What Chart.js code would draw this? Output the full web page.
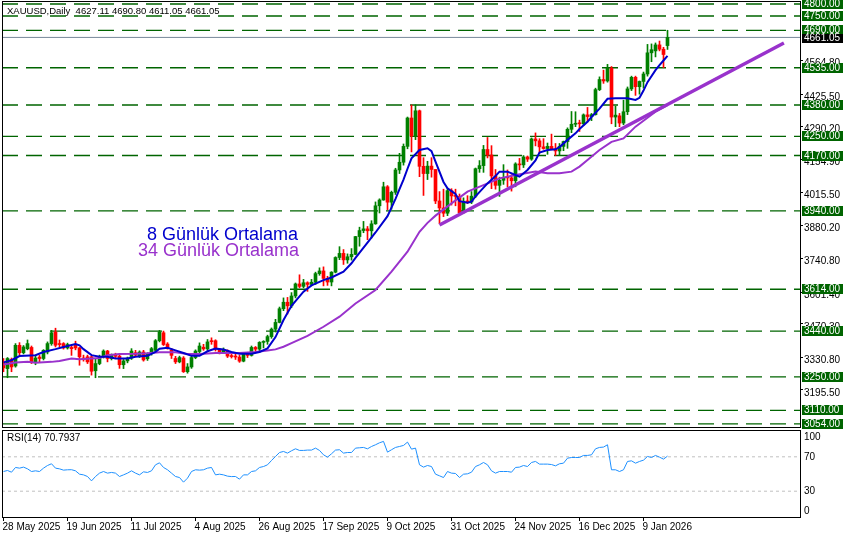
<!DOCTYPE html>
<html>
<head>
<meta charset="utf-8">
<script src="https://cdn.jsdelivr.net/npm/chart.js@4.4.1/dist/chart.umd.min.js"></script>
<style>
html, body { margin: 0; padding: 0; background: #fff; }
#wrap { position: relative; width: 846px; height: 538px; overflow: hidden; }
#main { position: absolute; left: 0; top: 0; }
#rsi { position: absolute; left: 0; top: 430px; }
</style>
</head>
<body>
<div id="wrap">
  <canvas id="main" width="846" height="430"></canvas>
  <canvas id="rsi" width="846" height="108"></canvas>
</div>
<script>
// daily candles, 28 May 2025 .. 19 Jan 2026 (bar index 0..166)
const opens = [
3308,3284,3322,3295,3381,3350,3367,3372,3312,3332, 3326,3353,3388,3436,3386,3388,3370,3372,3385,3370,
3328,3333,3333,3275,3305,3333,3357,3326,3340,3336, 3300,3316,3328,3350,3335,3353,3325,3346,3360,3400,
3433,3386,3360,3326,3312,3328,3271,3291,3330,3355, 3373,3366,3400,3400,3360,3353,3356,3336,3336,3332,
3315,3347,3339,3372,3365,3393,3397,3417,3448,3476, 3533,3560,3545,3586,3636,3626,3641,3634,3643,3679,
3690,3659,3644,3685,3746,3763,3736,3749,3759,3833, 3858,3865,3857,3886,3961,3985,4040,3976,4017,4110,
4142,4208,4326,4251,4356,4125,4095,4126,4112,3981, 3952,3930,4024,4002,4000,3932,3980,3977,4001,4115,
4128,4195,4172,4085,4046,4067,4078,4077,4065,4135, 4131,4164,4155,4239,4231,4206,4199,4208,4197,4189,
4208,4228,4279,4300,4304,4302,4339,4332,4340,4444, 4486,4480,4533,4330,4335,4305,4352,4447,4495,4456,
4478,4509,4597,4605,4630,4612,4627.11];
const highs = [
3326,3330,3328,3388,3392,3380,3403,3378,3340,3339, 3363,3395,3443,3452,3403,3392,3390,3381,3398,3372,
3340,3340,3336,3326,3340,3362,3360,3345,3348,3340, 3322,3332,3367,3360,3358,3360,3350,3372,3405,3443,
3440,3392,3368,3335,3336,3334,3305,3343,3362,3391, 3385,3405,3412,3404,3368,3370,3362,3345,3350,3340,
3350,3352,3378,3376,3396,3400,3423,3453,3489,3540, 3578,3580,3600,3640,3674,3655,3645,3655,3685,3703,
3707,3668,3687,3749,3791,3779,3761,3783,3834,3872, 3896,3875,3899,3977,3990,4059,4045,4022,4117,4179,
4218,4330,4380,4381,4359,4161,4146,4161,4112,4020, 4030,4034,4032,4030,4010,3994,4003,4020,4118,4149,
4212,4245,4211,4112,4080,4132,4110,4090,4140,4158, 4170,4168,4243,4264,4240,4240,4222,4259,4220,4220,
4230,4285,4353,4352,4317,4343,4370,4345,4450,4497, 4525,4549,4540,4375,4345,4400,4455,4500,4500,4480,
4517,4632,4634,4638,4646,4620,4690.80];
const lows = [
3271,3246,3271,3290,3340,3345,3362,3305,3300,3312, 3320,3345,3381,3374,3375,3365,3365,3339,3362,3298,
3315,3305,3257,3246,3300,3328,3312,3320,3330,3285, 3284,3308,3322,3335,3330,3315,3318,3340,3355,3395,
3380,3365,3326,3305,3308,3268,3265,3285,3325,3350, 3360,3360,3385,3357,3345,3348,3330,3328,3322,3310,
3312,3330,3336,3355,3352,3370,3385,3410,3436,3474, 3525,3511,3537,3578,3620,3620,3605,3628,3634,3672,
3628,3630,3628,3682,3737,3717,3722,3735,3757,3793, 3849,3820,3827,3884,3931,3984,3945,3947,4008,4095,
4130,4198,4185,4236,4082,4004,4070,4080,3970,3886, 3916,3920,3964,3961,3928,3930,3970,3970,3995,4100,
4100,4160,4032,4030,4000,4050,4040,4022,4040,4110, 4120,4145,4150,4210,4180,4196,4175,4195,4170,4170,
4190,4200,4265,4290,4270,4295,4310,4315,4338,4440, 4470,4475,4302,4290,4290,4298,4340,4440,4420,4425,
4450,4500,4560,4580,4605,4535,4611.05];
const closes = [
3287,3326,3291,3381,3350,3374,3388,3312,3328,3326, 3360,3388,3433,3381,3384,3370,3384,3367,3370,3333,
3323,3312,3273,3305,3333,3357,3326,3340,3335,3300, 3316,3328,3357,3340,3353,3320,3346,3367,3400,3436,
3384,3370,3339,3312,3330,3271,3291,3330,3357,3378, 3366,3395,3396,3367,3353,3360,3336,3334,3332,3315,
3347,3339,3372,3365,3393,3397,3417,3448,3476,3533, 3560,3545,3586,3636,3626,3641,3634,3643,3679,3690,
3659,3644,3685,3746,3763,3736,3749,3759,3833,3858, 3865,3857,3886,3961,3985,4040,3976,4017,4110,4142,
4208,4326,4251,4356,4125,4095,4126,4112,3981,3952, 3930,4024,4002,4000,3932,3980,3977,4001,4115,4128,
4195,4172,4085,4046,4067,4078,4077,4065,4135,4131, 4164,4155,4239,4231,4206,4199,4208,4197,4189,4208,
4228,4279,4300,4304,4302,4339,4332,4340,4444,4486, 4480,4533,4330,4338,4305,4352,4447,4495,4456,4478,
4509,4597,4610,4630,4612,4590,4661.05];

// moving averages at selected bars
const ma8Idx = [0,2,4,8,10,13,15,18,19,20,22,24,26,28,31,33,36,38,39,41,43,45,47,49,51,53,55,57,59,62,64,66,68,70,72,75,77,80,82,85,87,88,91,93,96,98,99,100,101,102,104,106,107,108,110,111,113,114,116,117,118,121,123,124,126,128,129,131,133,134,136,138,139,141,143,144,146,147,149,151,153,156,158,159,160,161,163,164,165,166];
const ma8Val = [3310,3319,3336,3340,3353,3365,3374,3386,3381,3365,3340,3333,3333,3326,3326,3333,3337,3353,3367,3371,3360,3349,3337,3337,3356,3367,3363,3353,3346,3346,3353,3368,3415,3486,3545,3604,3630,3652,3663,3687,3722,3744,3808,3850,3918,3990,4030,4070,4115,4158,4193,4200,4188,4145,4060,4034,4010,3980,3974,3978,4000,4054,4085,4103,4103,4089,4082,4110,4150,4182,4193,4196,4205,4235,4262,4280,4310,4330,4365,4406,4408,4408,4401,4410,4440,4475,4525,4546,4565,4584];
const ma34Idx = [0,3,6,8,12,14,17,19,22,24,26,29,33,36,39,43,46,49,53,56,59,63,66,68,70,72,76,80,84,88,93,97,101,104,106,108,112,116,120,124,128,133,136,139,142,144,146,149,152,155,158,163,166];
const ma34Val = [3301,3309,3312,3308,3312,3316,3326,3323,3326,3328,3340,3345,3346,3348,3352,3352,3345,3345,3349,3349,3349,3353,3359,3364,3375,3390,3420,3458,3500,3555,3611,3687,3770,3853,3890,3920,3971,4020,4047,4075,4089,4103,4096,4096,4103,4124,4151,4193,4227,4241,4290,4352,4380];

// trend line from the 28 Oct low
const trendIdx = [109, 195.1];
const trendVal = [3881, 4638];

// RSI(14)
const rsi = [
52.9,54.1,52.1,57.6,56.8,58.0,56.0,52.9,53.7,52.9, 56.8,59.9,61.9,56.8,56.0,54.5,54.9,55.0,53.7,49.8,
49.0,47.1,42.0,47.1,51.0,52.9,51.0,51.8,51.0,47.1, 49.0,51.0,53.7,51.0,49.0,52.5,51.8,53.7,60.7,63.0,
57.6,54.9,51.0,47.1,45.9,40.5,45.2,52.9,54.9,54.5, 54.9,56.8,57.6,49.0,49.8,49.0,47.5,47.0,47.1,44.0,
49.0,49.0,52.9,53.7,57.6,58.7,60.7,65.7,70.4,75.0, 76.2,74.3,77.0,79.3,77.4,77.4,77.8,77.8,80.1,77.4,
72.3,69.6,73.5,77.8,78.2,74.3,75.0,75.0,80.1,80.5, 80.9,79.3,82.0,84.0,86.3,87.9,75.4,78.2,80.9,82.0,
83.2,87.1,78.9,80.1,60.7,58.0,59.9,58.7,49.8,47.9, 45.9,52.9,51.0,50.6,45.9,49.8,50.2,52.1,58.7,60.7,
63.4,60.7,53.7,51.0,52.9,52.9,52.9,52.1,57.6,58.0, 59.9,58.7,63.4,64.6,61.5,61.5,61.5,61.0,59.5,61.9,
62.6,68.4,69.2,69.2,69.2,71.6,71.6,72.3,79.3,80.9, 81.3,84.0,54.9,54.9,52.9,54.9,64.6,65.3,62.6,64.6,
66.1,70.4,69.2,71.6,69.6,67.3,70.7937];
const rsiLevels = [70, 30];
const rsiTicks = [100, 70, 30, 0];

// horizontal levels and axis labels
const levels = [4800, 4750, 4690, 4535, 4380, 4250, 4170, 3940, 3614, 3440, 3250, 3110, 3054];
const priceTicks = [4564.80, 4425.50, 4290.20, 4154.90, 4015.50, 3880.20, 3740.80, 3601.40, 3470.30, 3330.80, 3195.50];
const dateIdx = [0, 16, 32, 48, 64, 80, 96, 112, 128, 144, 160];
const dateLabels = ['28 May 2025','19 Jun 2025','11 Jul 2025','4 Aug 2025','26 Aug 2025','17 Sep 2025','9 Oct 2025','31 Oct 2025','24 Nov 2025','16 Dec 2025','9 Jan 2026'];
const legendLabels = ['8 Günlük Ortalama', '34 Günlük Ortalama'];

const X_MIN = -0.375, X_MAX = 199.125;
const GREEN = '#008000', RED = '#ff0000', LEVEL = '#006400';
const BLUE = '#0000cd', PURPLE = '#9932cc';

Chart.defaults.font.family = '"Liberation Sans", Arial, sans-serif';
Chart.defaults.font.size = 10;
Chart.defaults.color = '#000';

const last = closes.length - 1;
const header = 'XAUUSD,Daily  ' + [opens[last], highs[last], lows[last], closes[last]].map(v => v.toFixed(2)).join(' ');

const bars = opens.map((o, i) => i);
const candleColors = bars.map(i => closes[i] >= opens[i] ? GREEN : RED);
const hline = (v, color, dash, width) => ({
  type: 'line', data: [{x: X_MIN, y: v}, {x: X_MAX, y: v}],
  borderColor: color, borderWidth: width, borderDash: dash, pointRadius: 0, order: 10
});

const mainDecor = {
  id: 'mainDecor',
  afterDraw(chart) {
    const {ctx, chartArea: a, scales: {y}} = chart;
    ctx.save();
    ctx.strokeStyle = '#000';
    ctx.lineWidth = 1;
    ctx.strokeRect(a.left + 0.5, a.top - 0.5, a.right - a.left, a.bottom - a.top + 1);

    ctx.fillStyle = '#000';
    ctx.font = '9.5px "Liberation Sans"';
    ctx.textBaseline = 'middle';
    ctx.fillText(header, 7, 11);

    ctx.textBaseline = 'alphabetic';
    ctx.font = '18px "Liberation Sans"';
    ctx.fillStyle = BLUE;
    ctx.fillText(legendLabels[0], 147, 240);
    ctx.fillStyle = PURPLE;
    ctx.fillText(legendLabels[1], 138, 256);

    ctx.font = '10px "Liberation Sans"';
    ctx.textBaseline = 'middle';
    levels.forEach(v => {
      const py = Math.round(y.getPixelForValue(v));
      ctx.fillStyle = LEVEL;
      ctx.fillRect(802, py - 5, 41, 10);
      ctx.fillStyle = '#fff';
      ctx.fillText(v.toFixed(2), 804, py + 0.5);
    });
    const cp = Math.round(y.getPixelForValue(closes[last]));
    ctx.fillStyle = '#000';
    ctx.fillRect(802, cp - 3, 41, 9);
    ctx.fillStyle = '#fff';
    ctx.fillText(closes[last].toFixed(2), 804, cp + 1.5);
    ctx.restore();
  }
};

new Chart(document.getElementById('main'), {
  type: 'bar',
  data: {
    datasets: [
      {type: 'line', data: trendIdx.map((x, k) => ({x, y: trendVal[k]})), borderColor: PURPLE, borderWidth: 3.5, pointRadius: 0, order: 0},
      {type: 'line', data: ma8Idx.map((x, k) => ({x, y: ma8Val[k]})), borderColor: BLUE, borderWidth: 2, pointRadius: 0, order: 1},
      {type: 'line', data: ma34Idx.map((x, k) => ({x, y: ma34Val[k]})), borderColor: PURPLE, borderWidth: 2, pointRadius: 0, order: 2},
      {data: bars.map(i => ({x: i, y: [opens[i], closes[i]]})), backgroundColor: candleColors, barThickness: 3, minBarLength: 1, grouped: false, borderWidth: 0, order: 3},
      {data: bars.map(i => ({x: i, y: [lows[i], highs[i]]})), backgroundColor: candleColors, barThickness: 1, grouped: false, borderWidth: 0, order: 4},
      hline(closes[last], '#778899', [], 1),
      ...levels.map(v => hline(v, LEVEL, [16, 8], 1.3))
    ]
  },
  options: {
    responsive: false,
    animation: false,
    devicePixelRatio: 1,
    layout: {padding: {left: 2, top: 2, right: 0, bottom: 3}},
    plugins: {legend: {display: false}, tooltip: {enabled: false}},
    scales: {
      x: {type: 'linear', min: X_MIN, max: X_MAX, offset: false, display: false},
      y: {
        position: 'right', min: 3041.2, max: 4808.3,
        afterBuildTicks: s => { s.ticks = priceTicks.map(v => ({value: v})); },
        ticks: {callback: v => v.toFixed(2), padding: 1, labelOffset: 3, autoSkip: false},
        grid: {drawOnChartArea: false, tickLength: 3, color: '#000'},
        border: {display: true, color: '#000'},
        afterFit: s => { s.width = 46; s.paddingTop = 0; s.paddingBottom = 0; }
      }
    }
  },
  plugins: [mainDecor]
});

const rsiDecor = {
  id: 'rsiDecor',
  afterDraw(chart) {
    const {ctx, chartArea: a, scales: {y}} = chart;
    ctx.save();
    ctx.strokeStyle = '#000';
    ctx.lineWidth = 1;
    ctx.strokeRect(a.left + 0.5, a.top - 0.5, a.right - a.left, a.bottom - a.top + 1);
    ctx.fillStyle = '#000';
    ctx.font = '10px "Liberation Sans"';
    ctx.textBaseline = 'middle';
    ctx.fillText('RSI(14) ' + rsi[last].toFixed(4), 7, 8);
    rsiTicks.forEach(v => {
      const py = Math.min(Math.max(y.getPixelForValue(v), a.top + 6), a.bottom - 6);
      ctx.fillText(String(v), 804, py);
    });
    ctx.restore();
  }
};

new Chart(document.getElementById('rsi'), {
  type: 'line',
  data: {
    datasets: [
      {data: bars.map(i => ({x: i, y: rsi[i]})), borderColor: '#1e90ff', borderWidth: 1, pointRadius: 0, order: 0},
      ...rsiLevels.map(v => hline(v, '#c0c0c0', [3, 3], 1))
    ]
  },
  options: {
    responsive: false,
    animation: false,
    devicePixelRatio: 1,
    layout: {padding: {left: 2, top: 1, right: 0, bottom: 0}},
    plugins: {legend: {display: false}, tooltip: {enabled: false}},
    scales: {
      x: {
        type: 'linear', min: X_MIN, max: X_MAX, offset: false,
        afterBuildTicks: s => { s.ticks = dateIdx.map(v => ({value: v})); },
        ticks: {callback: (v, k) => dateLabels[k], align: 'start', labelOffset: -1, padding: 0, autoSkip: false, maxRotation: 0, minRotation: 0},
        grid: {drawOnChartArea: false, tickLength: 4, color: '#000'},
        border: {display: true, color: '#000'},
        afterFit: s => { s.height = 21; s.paddingLeft = 0; s.paddingRight = 0; }
      },
      y: {
        position: 'right', min: 0, max: 100,
        ticks: {display: false},
        grid: {display: false},
        border: {display: true, color: '#000'},
        afterFit: s => { s.width = 46; s.paddingTop = 0; s.paddingBottom = 0; }
      }
    }
  },
  plugins: [rsiDecor]
});
</script>
</body>
</html>
